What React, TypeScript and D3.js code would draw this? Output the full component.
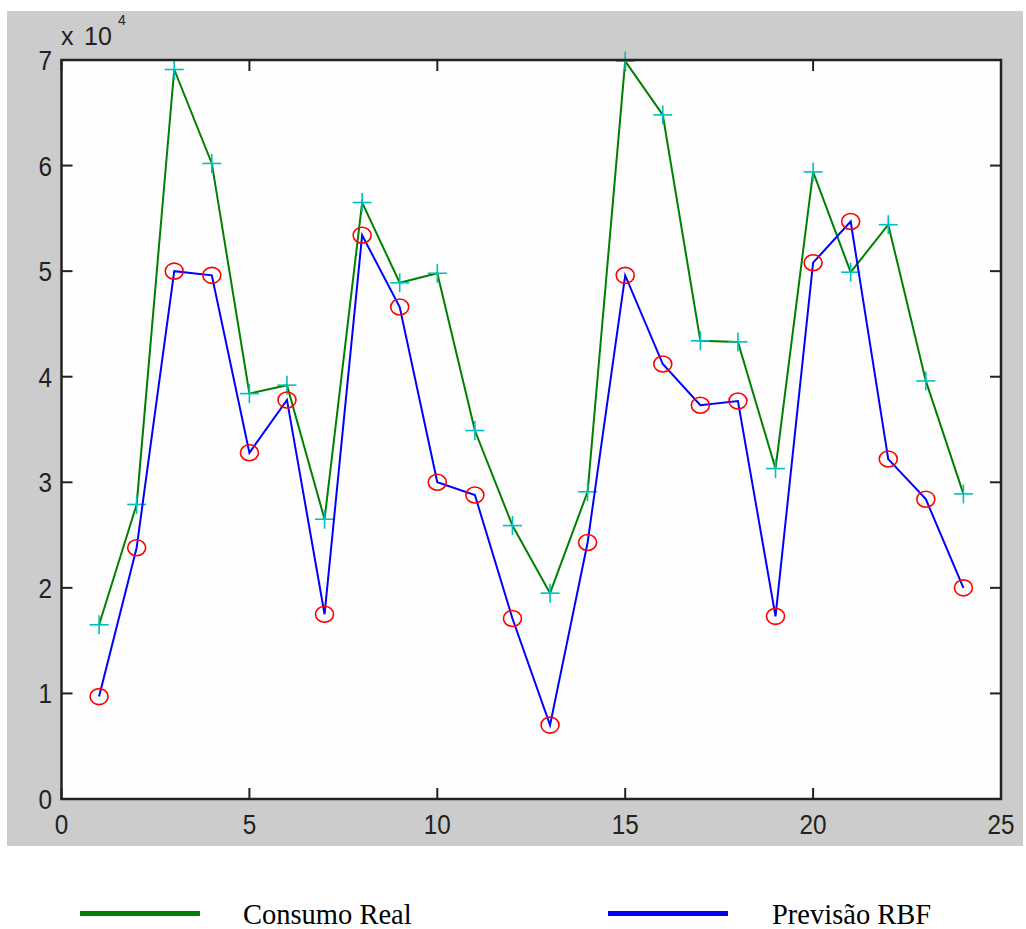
import React from "react";
import * as d3 from "d3";

const xValues = [1,2,3,4,5,6,7,8,9,10,11,12,13,14,15,16,17,18,19,20,21,22,23,24];
const consumoReal = [16500,27900,69100,60200,38400,39200,26500,56500,48900,49800,34900,25900,19500,29100,69900,64800,43400,43300,31300,59400,49900,54400,39600,28900];
const previsaoRBF = [9700,23800,50000,49600,32800,37800,17500,53400,46600,30000,28800,17100,7000,24300,49600,41200,37300,37700,17300,50800,54700,32200,28400,20000];
const xTicks = [0,5,10,15,20,25];
const yTicks = [0,1,2,3,4,5,6,7];
const legendLabels = ["Consumo Real", "Previsão RBF"];

export default function App() {
  const W = 1026, H = 929;
  const left = 61.5, right = 1001, top = 60, bottom = 799;
  const x = d3.scaleLinear().domain([0, 25]).range([left, right]);
  const y = d3.scaleLinear().domain([0, 70000]).range([bottom, top]);
  const line = d3.line<number>().x((_, i) => x(xValues[i])).y(d => y(d));
  const tickLen = 11;
  const tickFont = "'Liberation Sans', Arial, sans-serif";
  const plus = 9.5;

  return (
    <svg width={W} height={H} style={{ position: "absolute", left: 0, top: 0, background: "#fff" }}>
      <rect x={7} y={11} width={1016} height={835} fill="#cccccc" />
      <rect x={left} y={top} width={right - left} height={bottom - top} fill="#fefefe" />
      {/* ticks */}
      {xTicks.map(t => (
        <g key={"xt" + t}>
          <line x1={x(t)} x2={x(t)} y1={bottom} y2={bottom - tickLen} stroke="#222" strokeWidth={2} />
          <line x1={x(t)} x2={x(t)} y1={top} y2={top + tickLen} stroke="#222" strokeWidth={2} />
          <text x={x(t)} y={834} textAnchor="middle" fontFamily={tickFont} fontSize={27} fill="#222" transform={`translate(${x(t)},0) scale(0.9,1) translate(${-x(t)},0)`}>{t}</text>
        </g>
      ))}
      {yTicks.map(t => (
        <g key={"yt" + t}>
          <line x1={left} x2={left + tickLen} y1={y(t * 10000)} y2={y(t * 10000)} stroke="#222" strokeWidth={2} />
          <line x1={right} x2={right - tickLen} y1={y(t * 10000)} y2={y(t * 10000)} stroke="#222" strokeWidth={2} />
          <text x={52} y={y(t * 10000) + 10} textAnchor="end" fontFamily={tickFont} fontSize={27} fill="#222" transform={`translate(52,0) scale(0.9,1) translate(-52,0)`}>{t}</text>
        </g>
      ))}
      <text x={61} y={45} fontFamily={tickFont} fontSize={25} fill="#222">x</text>
      <text x={84} y={45} fontFamily={tickFont} fontSize={25} fill="#222">10</text>
      <text x={118} y={25} fontFamily={tickFont} fontSize={14} fill="#222">4</text>
      {/* series */}
      <path d={line(consumoReal) || ""} fill="none" stroke="#008000" strokeWidth={2} />
      {consumoReal.map((v, i) => (
        <g key={"p" + i} stroke="#00bfbf" strokeWidth={1.6}>
          <line x1={x(xValues[i]) - plus} x2={x(xValues[i]) + plus} y1={y(v)} y2={y(v)} />
          <line x1={x(xValues[i])} x2={x(xValues[i])} y1={y(v) - plus} y2={y(v) + plus} />
        </g>
      ))}
      <path d={line(previsaoRBF) || ""} fill="none" stroke="#0000ff" strokeWidth={2} />
      {previsaoRBF.map((v, i) => (
        <ellipse key={"c" + i} cx={x(xValues[i])} cy={y(v)} rx={9} ry={8} fill="none" stroke="#ff0000" strokeWidth={1.6} />
      ))}
      {/* axes box */}
      <rect x={left} y={top} width={right - left} height={bottom - top} fill="none" stroke="#222" strokeWidth={2.5} />
      {/* legend */}
      <line x1={80} x2={200} y1={913.5} y2={913.5} stroke="#008000" strokeWidth={5} />
      <text x={243} y={924} fontFamily="'Liberation Serif', 'Times New Roman', serif" fontSize={28.5} fill="#000">{legendLabels[0]}</text>
      <line x1={608} x2={728} y1={913.5} y2={913.5} stroke="#0000ff" strokeWidth={5} />
      <text x={772} y={924} fontFamily="'Liberation Serif', 'Times New Roman', serif" fontSize={28.5} fill="#000">{legendLabels[1]}</text>
    </svg>
  );
}
